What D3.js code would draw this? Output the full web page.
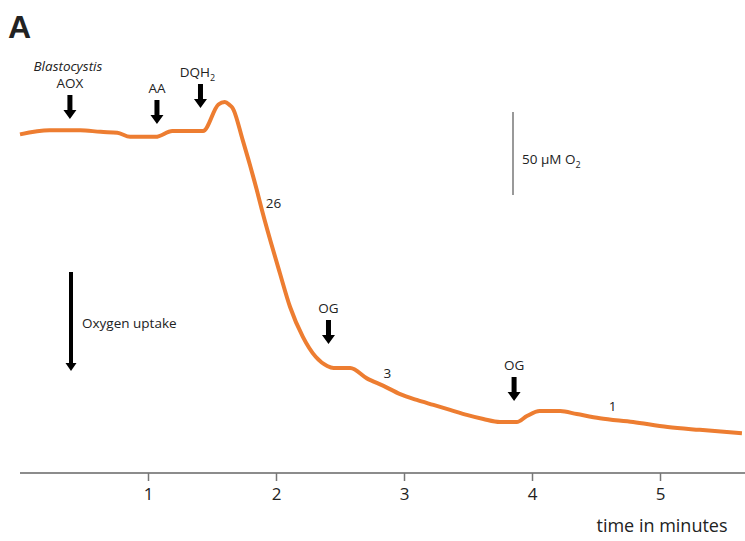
<!DOCTYPE html>
<html>
<head>
<meta charset="utf-8">
<script src="https://cdn.jsdelivr.net/npm/d3@7"></script>
<style>
  body { margin: 0; background: #fff; }
  text { font-family: "Open Sans", "Noto Sans", sans-serif; fill: #222; }
</style>
</head>
<body>
<div id="chart"></div>
<script>
// oxygen trace, time in minutes / O2 in µM (relative)
var times = [0, 0.23, 0.47, 0.63, 0.76, 0.86, 1.06, 1.19, 1.43, 1.55, 1.60, 1.64, 1.66,
  1.74, 1.85, 1.89, 2.03, 2.11, 2.21, 2.31, 2.40, 2.45, 2.58, 2.71, 2.84, 2.97, 3.10,
  3.23, 3.36, 3.49, 3.62, 3.75, 3.88, 3.96, 4.06, 4.22, 4.35, 4.53, 4.79, 5.06, 5.31, 5.64];
var oxygen = [204, 206.5, 206.5, 205.5, 205, 202.5, 202.5, 206, 206, 222, 223.5, 221.5, 220,
  200.5, 170.5, 158.5, 120.5, 100, 82, 70, 64.5, 63.3, 63.3, 57, 52.5, 47.5, 44,
  41, 38, 35, 32.5, 30.7, 30.7, 34.3, 37.3, 37.3, 35.5, 33, 30.7, 27.7, 26, 24];

var xTicks = [1, 2, 3, 4, 5];

// additions marked by arrows
var addNames = ["AOX", "AA", "DQH2", "OG", "OG"];
var addTimes = [0.39, 1.07, 1.41, 2.41, 3.86];

// rates written next to the trace
var rateLabels = ["26", "3", "1"];
var rateTimes = [1.98, 2.87, 4.63];

var width = 745, height = 541;

var svg = d3.select("#chart").append("svg")
  .attr("width", width)
  .attr("height", height);

var xScale = d3.scaleLinear().domain([0, 5.664]).range([20, 745]);
var yScale = d3.scaleLinear().domain([0, 50]).range([473, 390]);

// x axis
var xAxis = d3.axisBottom(xScale)
  .tickValues(xTicks)
  .tickSize(8)
  .tickFormat(d3.format("d"));

var axisG = svg.append("g")
  .attr("transform", "translate(0,473)")
  .call(xAxis);
axisG.select(".domain").attr("stroke", "#666").attr("stroke-width", 1.5).attr("d", "M20,0H745");
axisG.selectAll(".tick line").attr("stroke", "#777").attr("stroke-width", 1.5);
axisG.selectAll(".tick text")
  .attr("y", 15)
  .style("font-family", "'Open Sans', sans-serif")
  .style("font-size", "17px")
  .attr("fill", "#111");

svg.append("text")
  .attr("x", 662).attr("y", 532)
  .attr("text-anchor", "middle")
  .style("font-size", "18px")
  .attr("fill", "#111")
  .text("time in minutes");

// the trace
var line = d3.line()
  .x(function(d, i) { return xScale(times[i]); })
  .y(function(d) { return yScale(d); })
  .curve(d3.curveMonotoneX);

svg.append("path")
  .datum(oxygen)
  .attr("fill", "none")
  .attr("stroke", "#ED7D31")
  .attr("stroke-width", 4)
  .attr("stroke-linejoin", "round")
  .attr("d", line);

// arrow helper
function arrow(x, y1, y2, shaft, head, headH) {
  var p = d3.path();
  p.moveTo(x - shaft / 2, y1);
  p.lineTo(x + shaft / 2, y1);
  p.lineTo(x + shaft / 2, y2 - headH);
  p.lineTo(x + head / 2, y2 - headH);
  p.lineTo(x, y2);
  p.lineTo(x - head / 2, y2 - headH);
  p.lineTo(x - shaft / 2, y2 - headH);
  p.closePath();
  svg.append("path").attr("d", p).attr("fill", "#000");
}

// arrow tops / label heights for each addition
var arrowTop = [95, 100, 84, 320, 377];
addNames.forEach(function(name, i) {
  var x = xScale(addTimes[i]);
  arrow(x, arrowTop[i], arrowTop[i] + 24, 5, 13, 9);
  var t = svg.append("text")
    .attr("x", x - (name == "DQH2" ? 3 : 0))
    .attr("y", arrowTop[i] - 7)
    .attr("text-anchor", "middle")
    .style("font-size", "13.5px");
  if (name == "DQH2") {
    t.append("tspan").text("DQH");
    t.append("tspan").attr("dy", 4).style("font-size", "9px").text("2");
  } else {
    t.text(name);
  }
});

svg.append("text")
  .attr("x", xScale(addTimes[0]) - 2).attr("y", 71)
  .attr("text-anchor", "middle")
  .style("font-size", "13.5px")
  .style("font-style", "italic")
  .text("Blastocystis");

// rates
var rateY = [208, 378, 411];
rateLabels.forEach(function(r, i) {
  svg.append("text")
    .attr("x", xScale(rateTimes[i])).attr("y", rateY[i])
    .attr("text-anchor", "middle")
    .style("font-size", "13.5px")
    .text(r);
});

// scale bar 50 µM O2
var barLen = yScale(0) - yScale(50);
svg.append("line")
  .attr("x1", 513).attr("x2", 513)
  .attr("y1", 195 - barLen)
  .attr("y2", 195)
  .attr("stroke", "#777").attr("stroke-width", 1.5);
var sb = svg.append("text")
  .attr("x", 522).attr("y", 164)
  .style("font-size", "13.5px");
sb.append("tspan").text("50 µM O");
sb.append("tspan").attr("dy", 4).style("font-size", "9px").text("2");

// oxygen uptake arrow
arrow(71, 272, 371, 4, 11, 8);
svg.append("text")
  .attr("x", 82).attr("y", 328)
  .style("font-size", "13.5px")
  .text("Oxygen uptake");

// panel letter
svg.append("text")
  .attr("x", 8).attr("y", 38)
  .style("font-family", "'Liberation Sans', Arial, sans-serif")
  .style("font-weight", "bold")
  .style("font-size", "32px")
  .attr("fill", "#000")
  .text("A");
</script>
</body>
</html>
